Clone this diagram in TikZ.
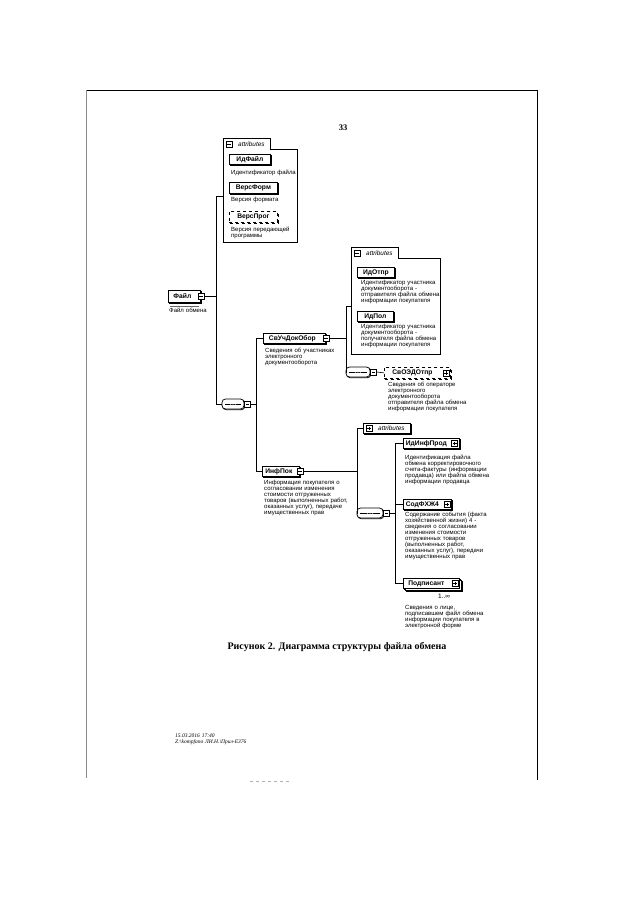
\documentclass[tikz,border=0pt]{standalone}
\usepackage{fontspec}
\setmainfont{Liberation Serif}
\newfontfamily\dsans{Liberation Sans}
\usetikzlibrary{shadows}
\tikzset{
 conn/.style={line width=.6pt},
 elem/.style={draw, line width=.75pt, fill=white, inner ysep=0pt, inner xsep=2.5pt, minimum height=10pt,
   font=\dsans\bfseries\fontsize{6.7}{7.5}\selectfont,
   copy shadow={shadow xshift=1pt, shadow yshift=-1pt}},
 optelem/.style={elem, dashed},
 desc/.style={anchor=base west, inner sep=0pt, text width=120pt, align=left,
   font=\dsans\fontsize{6}{6}\selectfont},
 minusbtn/.style={draw, fill=white, line width=.5pt, minimum size=6pt, inner sep=0pt,
   path picture={\draw[line width=.5pt] ([xshift=1.2pt]path picture bounding box.west) -- ([xshift=-1.2pt]path picture bounding box.east);}},
 plusbtn/.style={draw, fill=white, line width=.5pt, minimum size=6pt, inner sep=0pt,
   path picture={\draw[line width=.5pt] ([xshift=1.2pt]path picture bounding box.west) -- ([xshift=-1.2pt]path picture bounding box.east);
                 \draw[line width=.5pt] ([yshift=1.2pt]path picture bounding box.south) -- ([yshift=-1.2pt]path picture bounding box.north);}},
 seqnode/.style={draw, line width=.75pt, fill=white, rounded corners=3.5pt, minimum height=10pt, inner sep=0pt,
   copy shadow={shadow xshift=.8pt, shadow yshift=-.8pt},
   path picture={\draw[line width=.4pt] ([xshift=3pt]path picture bounding box.west) -- ([xshift=-3pt]path picture bounding box.east);
     \fill (path picture bounding box.center) circle (.7pt);
     \fill ([xshift=-2.4pt]path picture bounding box.center) circle (.7pt);
     \fill ([xshift=2.4pt]path picture bounding box.center) circle (.7pt);}},
 attrtab/.style={draw, line width=.8pt, fill=white, inner ysep=0pt, inner xsep=1pt, minimum height=11pt,
   minimum width=47pt, font=\dsans\itshape\fontsize{6.4}{7}\selectfont},
 attrbody/.style={draw, line width=.9pt, inner sep=0pt},
}
\begin{document}
\begin{tikzpicture}[x=1pt,y=-1pt]
\useasboundingbox[fill=white] (0,0) rectangle (640,905);
% page frame
\draw[line width=.7pt] (86,90) -- (537,90);
\draw[line width=.7pt] (537,90) -- (537,780);
\draw[line width=.4pt, black!45] (86,90) -- (86,778);
\draw[line width=.4pt, black!30, dashed] (250,781) -- (292,781);
\node[font=\bfseries\fontsize{8.5}{10}\selectfont, anchor=base] (pagenum) at (343,130) {33};

% buses
\coordinate (b1) at (216,0);
\coordinate (b2) at (256,0);
\coordinate (b3) at (346,0);
\coordinate (b4) at (357,0);
\coordinate (b5) at (395,0);

% attributes 1
\node[attrbody, minimum width=74pt, minimum height=93pt, anchor=north west] (a1body) at (223,149) {};
\node[attrtab, anchor=north west] (a1tab) at (223,138) {\hspace*{9pt}attributes};
\draw[white, line width=1.4pt] ([xshift=.6pt]a1tab.south west) -- ([xshift=-.6pt]a1tab.south east);
\node[minusbtn] (a1icon) at ([xshift=6pt]a1tab.west) {};
\node[elem, minimum width=41pt, anchor=north west] (idfile) at (229,154) {ИдФайл};
\node[desc] (idfiled) at (231,174) {Идентификатор файла};
\node[elem, minimum width=48pt, minimum height=11pt, anchor=north west] (versform) at (229,182) {ВерсФорм};
\node[desc] (versformd) at (231,201) {Версия формата};
\node[optelem, minimum width=48pt, minimum height=11pt, anchor=north west] (versprog) at (229,211) {ВерсПрог};
\node[desc] (versprogd) at (231,231) {Версия передающей\\программы};

% root
\node[elem, minimum width=32pt, minimum height=12pt, anchor=north west] (file) at (168,290) {Файл\hspace*{4pt}};
\node[minusbtn] (filebtn) at (file.east) {};
\draw[line width=.4pt, black!60] ([yshift=-3pt,xshift=2pt]file.south west) -- ([yshift=-3pt,xshift=-2pt]file.south east);
\node[desc] (filed) at (169,312) {Файл обмена};

% seq 1
\node[seqnode, minimum width=22pt] (seq1) at (233,404) {};
\node[minusbtn, anchor=west] (seq1btn) at (seq1.east) {};

\draw[conn] (filebtn.east) -- (filebtn.east -| b1);
\draw[conn] (a1body.west) -- (a1body.west -| b1) -- (seq1.west -| b1) -- (seq1.west);

% СвУчДокОбор
\node[elem, minimum width=62pt, anchor=north west] (svuch) at (263,333) {СвУчДокОбор\hspace*{4pt}};
\node[minusbtn] (svuchbtn) at (svuch.east) {};
\node[desc] (svuchd) at (265,352) {Сведения об участниках\\электронного\\документооборота};

% ИнфПок
\node[elem, minimum width=37pt, anchor=north west] (infpok) at (262,466) {ИнфПок\hspace*{4pt}};
\node[minusbtn] (infpokbtn) at (infpok.east) {};
\node[desc] (infpokd) at (264,484) {Информация покупателя о\\согласовании изменения\\стоимости отгруженных\\товаров (выполненных работ,\\оказанных услуг), передаче\\имущественных прав};

\draw[conn] (seq1btn.east) -- (seq1btn.east -| b2);
\draw[conn] (svuch.west) -- (svuch.west -| b2) -- (infpok.west -| b2) -- (infpok.west);

% attributes 2
\node[attrbody, minimum width=89pt, minimum height=96pt, anchor=north west] (a2body) at (351,258) {};
\node[attrtab, anchor=north west] (a2tab) at (351,247) {\hspace*{9pt}attributes};
\draw[white, line width=1.4pt] ([xshift=.6pt]a2tab.south west) -- ([xshift=-.6pt]a2tab.south east);
\node[minusbtn] (a2icon) at ([xshift=6pt]a2tab.west) {};
\node[elem, minimum width=37pt, anchor=north west] (idotpr) at (357,267) {ИдОтпр};
\node[desc] (idotprd) at (361,284) {Идентификатор участника\\документооборота -\\отправителя файла обмена\\информации покупателя};
\node[elem, minimum width=36pt, anchor=north west] (idpol) at (357,311) {ИдПол};
\node[desc] (idpold) at (361,328) {Идентификатор участника\\документооборота -\\получателя файла обмена\\информации покупателя};

% seq 2
\node[seqnode, minimum width=24pt] (seq2) at (358,372) {};
\node[minusbtn, anchor=west] (seq2btn) at (seq2.east) {};
\node[optelem, minimum width=66pt, minimum height=11pt, anchor=north west] (svoedo) at (384,367) {СвОЭДОтпр\hspace*{10pt}};
\node[plusbtn] (svoedobtn) at ([xshift=-5pt]svoedo.east) {};
\node[desc] (svoedod) at (388,386) {Сведения об операторе\\электронного\\документооборота\\отправителя файла обмена\\информации покупателя};

\draw[conn] (svuchbtn.east) -- (svuchbtn.east -| b3);
\draw[conn] (a2body.west) -- (a2body.west -| b3) -- (seq2.west -| b3) -- (seq2.west);
\draw[conn] (seq2btn.east) -- (svoedo.west);

% attributes 3 (collapsed)
\node[attrtab, minimum height=10pt, copy shadow={shadow xshift=1pt, shadow yshift=-1pt}, anchor=north west] (a3tab) at (363,423) {\hspace*{9pt}attributes};
\node[plusbtn] (a3icon) at ([xshift=6pt]a3tab.west) {};

% seq 3
\node[seqnode, minimum width=26pt] (seq3) at (370,513) {};
\node[minusbtn, anchor=west] (seq3btn) at (seq3.east) {};

\draw[conn] (infpokbtn.east) -- (infpokbtn.east -| b4);
\draw[conn] (a3tab.west) -- (a3tab.west -| b4) -- (seq3.west -| b4) -- (seq3.west);

% children of seq 3
\node[elem, minimum width=54pt, anchor=north west] (idinf) at (403,438) {ИдИнфПрод\hspace*{10pt}};
\node[plusbtn] (idinfbtn) at ([xshift=-5pt]idinf.east) {};
\node[desc] (idinfd) at (405,459) {Идентификация файла\\обмена корректировочного\\счета-фактуры (информации\\продавца) или файла обмена\\информации продавца};

\node[elem, minimum width=46pt, anchor=north west] (sodf) at (403,499) {СодФХЖ4\hspace*{10pt}};
\node[plusbtn] (sodfbtn) at ([xshift=-5pt]sodf.east) {};
\node[desc] (sodfd) at (405,516) {Содержание события (факта\\хозяйственной жизни) 4 -\\сведения о согласовании\\изменения стоимости\\отгруженных товаров\\(выполненных работ,\\оказанных услуг), передачи\\имущественных прав};

\node[elem, minimum width=56pt, anchor=north west, double copy shadow={shadow xshift=1.6pt, shadow yshift=-1.6pt}] (podp) at (403,578) {Подписант\hspace*{10pt}};
\node[plusbtn] (podpbtn) at ([xshift=-5pt]podp.east) {};
\node[anchor=base west, inner sep=0pt, font=\dsans\fontsize{6.5}{7}\selectfont] (podpm) at (438,598) {1..∞};
\node[desc] (podpd) at (405,609) {Сведения о лице,\\подписавшем файл обмена\\информации покупателя в\\электронной форме};

\draw[conn] (seq3btn.east) -- (seq3btn.east -| b5);
\draw[conn] (idinf.west) -- (idinf.west -| b5) -- (podp.west -| b5) -- (podp.west);
\draw[conn] (sodf.west) -- (sodf.west -| b5);

% caption
\node[font=\bfseries\fontsize{10}{12}\selectfont, anchor=base] (caption) at (337,649) {Рисунок 2. Диаграмма структуры файла обмена};

% footer
\node[anchor=base west, inner sep=0pt, text width=120pt, align=left, font=\itshape\fontsize{5.5}{6.5}\selectfont] (footer) at (175,737) {15.03.2016 17:40\\Z:\textbackslash kompfano ЛИ.Н.\textbackslash Прил-Е376};
\end{tikzpicture}
\end{document}
